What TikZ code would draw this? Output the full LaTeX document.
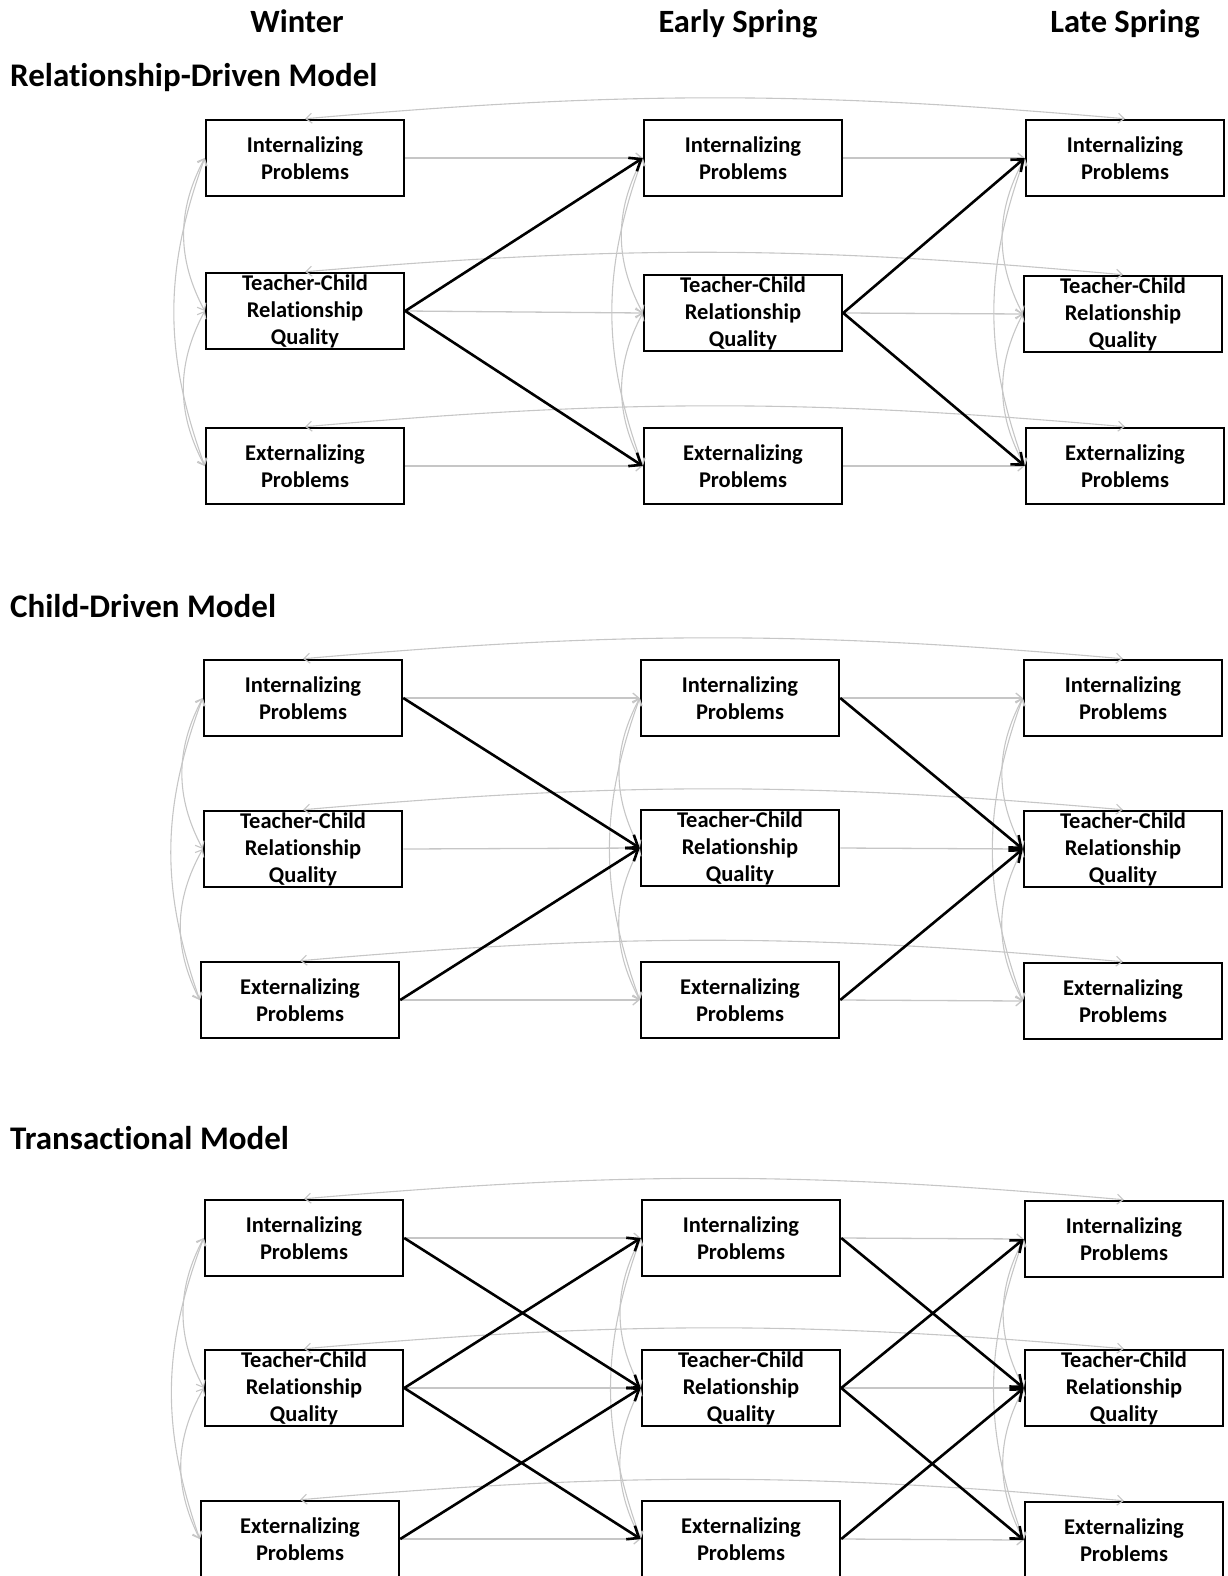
\documentclass[tikz,border=0pt]{standalone}
\usepackage{fontspec}
\setmainfont{Carlito}[Ligatures=NoCommon]
\usetikzlibrary{arrows.meta}
\tikzset{varbox/.style = {draw, line width=2.5pt, fill=white,
                          minimum width=198pt, minimum height=76pt,
                          inner sep=0pt, align=center,
                          font=\fontsize{22.5}{27}\selectfont\bfseries}}
\tikzset{lagged/.style = {line width=2.6pt,
                          -{Straight Barb[length=10pt,width=16pt]}}}
\tikzset{stable/.style = {gray!45, line width=1.3pt,
                          -{Straight Barb[length=6pt,width=10pt]}}}
\tikzset{covar/.style = {gray!45, line width=1.1pt,
                         {Straight Barb[length=6pt,width=10pt]}-{Straight Barb[length=6pt,width=10pt]}}}
\tikzset{header/.style = {font=\fontsize{32.5}{38}\selectfont\bfseries,
                          inner sep=0pt, anchor=base}}
\tikzset{modeltitle/.style = {header, font=\fontsize{33}{38}\selectfont\bfseries,
                              anchor=base west}}

\begin{document}
\begin{tikzpicture}[x=1pt, y=-1pt]
      \useasboundingbox (0, 0) rectangle (1227, 1576);

      \node [header] (winter) at (297, 33) {Winter};
      \node [header] (early) at (738, 33) {Early Spring};
      \node [header] (late) at (1125, 33) {Late Spring};

      % relationship-driven model
      \node [modeltitle] (reltitle) at (10, 87) {Relationship-Driven Model};
      \node [varbox] (rwi) at (305, 158) {Internalizing\\Problems};
      \node [varbox] (rwt) at (305, 311) {Teacher-Child\\Relationship\\Quality};
      \node [varbox] (rwe) at (305, 466) {Externalizing\\Problems};
      \node [varbox] (rei) at (743, 158) {Internalizing\\Problems};
      \node [varbox] (ret) at (743, 313) {Teacher-Child\\Relationship\\Quality};
      \node [varbox] (ree) at (743, 466) {Externalizing\\Problems};
      \node [varbox] (rli) at (1125, 158) {Internalizing\\Problems};
      \node [varbox] (rlt) at (1123, 314) {Teacher-Child\\Relationship\\Quality};
      \node [varbox] (rle) at (1125, 466) {Externalizing\\Problems};

      \draw [stable] (rwi.east) -- (rei.west);
      \draw [stable] (rwt.east) -- (ret.west);
      \draw [stable] (rwe.east) -- (ree.west);
      \draw [stable] (rei.east) -- (rli.west);
      \draw [stable] (ret.east) -- (rlt.west);
      \draw [stable] (ree.east) -- (rle.west);
      \draw [covar] (rwi.west) to [bend right=28] (rwt.west);
      \draw [covar] (rwt.west) to [bend right=28] (rwe.west);
      \draw [covar] (rwi.west) to [bend right=20] (rwe.west);
      \draw [covar] (rei.west) to [bend right=28] (ret.west);
      \draw [covar] (ret.west) to [bend right=28] (ree.west);
      \draw [covar] (rei.west) to [bend right=20] (ree.west);
      \draw [covar] (rli.west) to [bend right=28] (rlt.west);
      \draw [covar] (rlt.west) to [bend right=28] (rle.west);
      \draw [covar] (rli.west) to [bend right=20] (rle.west);
      \draw [covar] (rwi.north) to [bend left=5] (rli.north);
      \draw [covar] (rwt.north) to [bend left=5] (rlt.north);
      \draw [covar] (rwe.north) to [bend left=5] (rle.north);

      \draw [lagged] (rwt.east) -- (rei.west);
      \draw [lagged] (rwt.east) -- (ree.west);
      \draw [lagged] (ret.east) -- (rli.west);
      \draw [lagged] (ret.east) -- (rle.west);

      % child-driven model
      \node [modeltitle] (chtitle) at (10, 617) {Child-Driven Model};
      \node [varbox] (cwi) at (303, 698) {Internalizing\\Problems};
      \node [varbox] (cwt) at (303, 849) {Teacher-Child\\Relationship\\Quality};
      \node [varbox] (cwe) at (300, 1000) {Externalizing\\Problems};
      \node [varbox] (cei) at (740, 698) {Internalizing\\Problems};
      \node [varbox] (cet) at (740, 848) {Teacher-Child\\Relationship\\Quality};
      \node [varbox] (cee) at (740, 1000) {Externalizing\\Problems};
      \node [varbox] (cli) at (1123, 698) {Internalizing\\Problems};
      \node [varbox] (clt) at (1123, 849) {Teacher-Child\\Relationship\\Quality};
      \node [varbox] (cle) at (1123, 1001) {Externalizing\\Problems};

      \draw [stable] (cwi.east) -- (cei.west);
      \draw [stable] (cwt.east) -- (cet.west);
      \draw [stable] (cwe.east) -- (cee.west);
      \draw [stable] (cei.east) -- (cli.west);
      \draw [stable] (cet.east) -- (clt.west);
      \draw [stable] (cee.east) -- (cle.west);
      \draw [covar] (cwi.west) to [bend right=28] (cwt.west);
      \draw [covar] (cwt.west) to [bend right=28] (cwe.west);
      \draw [covar] (cwi.west) to [bend right=20] (cwe.west);
      \draw [covar] (cei.west) to [bend right=28] (cet.west);
      \draw [covar] (cet.west) to [bend right=28] (cee.west);
      \draw [covar] (cei.west) to [bend right=20] (cee.west);
      \draw [covar] (cli.west) to [bend right=28] (clt.west);
      \draw [covar] (clt.west) to [bend right=28] (cle.west);
      \draw [covar] (cli.west) to [bend right=20] (cle.west);
      \draw [covar] (cwi.north) to [bend left=5] (cli.north);
      \draw [covar] (cwt.north) to [bend left=5] (clt.north);
      \draw [covar] (cwe.north) to [bend left=5] (cle.north);

      \draw [lagged] (cwi.east) -- (cet.west);
      \draw [lagged] (cwe.east) -- (cet.west);
      \draw [lagged] (cei.east) -- (clt.west);
      \draw [lagged] (cee.east) -- (clt.west);

      % transactional model
      \node [modeltitle] (trtitle) at (10, 1149) {Transactional Model};
      \node [varbox] (twi) at (304, 1238) {Internalizing\\Problems};
      \node [varbox] (twt) at (304, 1388) {Teacher-Child\\Relationship\\Quality};
      \node [varbox] (twe) at (300, 1539) {Externalizing\\Problems};
      \node [varbox] (tei) at (741, 1238) {Internalizing\\Problems};
      \node [varbox] (tet) at (741, 1388) {Teacher-Child\\Relationship\\Quality};
      \node [varbox] (tee) at (741, 1539) {Externalizing\\Problems};
      \node [varbox] (tli) at (1124, 1239) {Internalizing\\Problems};
      \node [varbox] (tlt) at (1124, 1388) {Teacher-Child\\Relationship\\Quality};
      \node [varbox] (tle) at (1124, 1540) {Externalizing\\Problems};

      \draw [stable] (twi.east) -- (tei.west);
      \draw [stable] (twt.east) -- (tet.west);
      \draw [stable] (twe.east) -- (tee.west);
      \draw [stable] (tei.east) -- (tli.west);
      \draw [stable] (tet.east) -- (tlt.west);
      \draw [stable] (tee.east) -- (tle.west);
      \draw [covar] (twi.west) to [bend right=28] (twt.west);
      \draw [covar] (twt.west) to [bend right=28] (twe.west);
      \draw [covar] (twi.west) to [bend right=20] (twe.west);
      \draw [covar] (tei.west) to [bend right=28] (tet.west);
      \draw [covar] (tet.west) to [bend right=28] (tee.west);
      \draw [covar] (tei.west) to [bend right=20] (tee.west);
      \draw [covar] (tli.west) to [bend right=28] (tlt.west);
      \draw [covar] (tlt.west) to [bend right=28] (tle.west);
      \draw [covar] (tli.west) to [bend right=20] (tle.west);
      \draw [covar] (twi.north) to [bend left=5] (tli.north);
      \draw [covar] (twt.north) to [bend left=5] (tlt.north);
      \draw [covar] (twe.north) to [bend left=5] (tle.north);

      \draw [lagged] (twi.east) -- (tet.west);
      \draw [lagged] (twt.east) -- (tei.west);
      \draw [lagged] (twt.east) -- (tee.west);
      \draw [lagged] (twe.east) -- (tet.west);
      \draw [lagged] (tei.east) -- (tlt.west);
      \draw [lagged] (tet.east) -- (tli.west);
      \draw [lagged] (tet.east) -- (tle.west);
      \draw [lagged] (tee.east) -- (tlt.west);
\end{tikzpicture}
\end{document}
